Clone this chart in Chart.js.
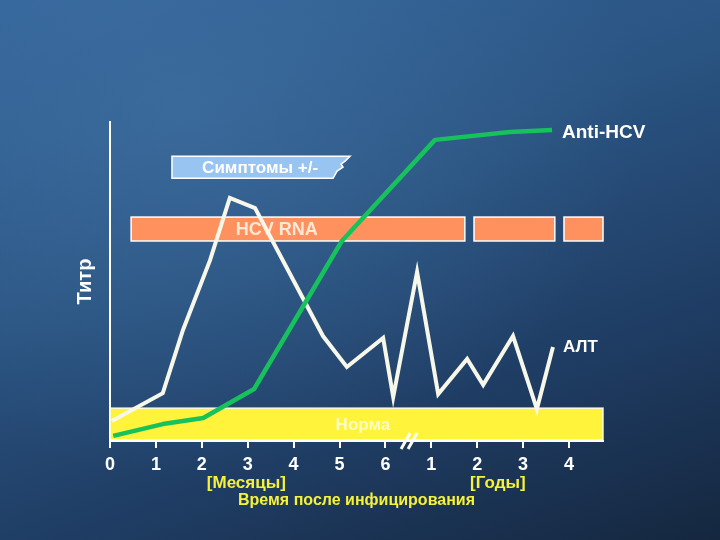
<!DOCTYPE html>
<html lang="ru">
<head>
<meta charset="utf-8">
<title>HCV</title>
<script src="https://cdn.jsdelivr.net/npm/chart.js@4/dist/chart.umd.min.js"></script>
<style>
    html, body {
        margin: 0;
        width: 720px;
        height: 540px;
        overflow: hidden;
    }
    body {
        background:
            radial-gradient(ellipse at 25% 20%, rgba(70, 120, 170, 0.5) 0%, rgba(70, 120, 170, 0) 60%),
            linear-gradient(160deg, #33649a 0%, #2a5482 38%, #1f3d64 70%, #15273f 100%);
    }
    canvas { display: block; }
</style>
</head>
<body>
<canvas id="chart" width="720" height="540"></canvas>
<script>
const tickLabels = ['0', '1', '2', '3', '4', '5', '6', '1', '2', '3', '4'];

const antiHcvX = [0.07, 1.15, 2.03, 3.14, 5.05, 7.08, 8.71, 9.63];
const antiHcvY = [1.6, 5.3, 7.2, 16.3, 62.7, 94.4, 96.9, 97.5];

const altX = [0.04, 1.15, 1.59, 2.18, 2.61, 3.16, 4.64, 5.16, 5.95, 6.17, 6.69, 7.15, 7.78, 8.13, 8.78, 9.30, 9.65];
const altY = [6.3, 15.0, 34.8, 56.7, 76.2, 73.0, 32.9, 23.2, 32.3, 13.8, 53.0, 14.7, 25.7, 17.6, 32.9, 10.0, 29.5];

const rnaFrom = [0.46, 7.93, 9.89];
const rnaTo = [7.73, 9.69, 10.74];
const rnaLevel = [62.7, 70.2];

const normaSpan = [0, 10.74];
const normaLevel = [0.3, 10.3];

const symptomsSpan = [1.35, 5.23];
const symptomsLevel = [82.4, 89.3];

const FONT = '"Liberation Sans", Arial, sans-serif';

const toPoints = (xs, ys) => xs.map((x, i) => ({ x, y: ys[i] }));

const rectFor = (chart, x0, x1, y0, y1) => {
    const { x, y } = chart.scales;
    const left = x.getPixelForValue(x0);
    const right = x.getPixelForValue(x1);
    const top = y.getPixelForValue(y1);
    const bottom = y.getPixelForValue(y0);
    return { left, right, top, bottom, width: right - left, height: bottom - top };
};

const bandsPlugin = {
    id: 'bands',
    beforeDatasetsDraw(chart) {
        const ctx = chart.ctx;
        ctx.save();

        // Норма
        const n = rectFor(chart, normaSpan[0], normaSpan[1], normaLevel[0], normaLevel[1]);
        ctx.fillStyle = '#fff33c';
        ctx.fillRect(n.left, n.top, n.width, n.height);
        ctx.strokeStyle = 'rgba(255,255,255,0.9)';
        ctx.lineWidth = 1.5;
        ctx.strokeRect(n.left, n.top, n.width, n.height);
        ctx.fillStyle = 'rgba(255,255,255,0.7)';
        ctx.font = 'bold 17px ' + FONT;
        ctx.textAlign = 'center';
        ctx.textBaseline = 'middle';
        ctx.fillText('Норма', chart.scales.x.getPixelForValue(5.51), n.top + n.height / 2 + 1);

        // HCV RNA
        rnaFrom.forEach((from, i) => {
            const r = rectFor(chart, from, rnaTo[i], rnaLevel[0], rnaLevel[1]);
            ctx.fillStyle = '#ff915f';
            ctx.fillRect(r.left, r.top, r.width, r.height);
            ctx.strokeStyle = '#ffffff';
            ctx.lineWidth = 1.5;
            ctx.strokeRect(r.left, r.top, r.width, r.height);
            if (i === 0) {
                ctx.fillStyle = '#ffe8d8';
                ctx.font = 'bold 18px ' + FONT;
                ctx.fillText('HCV RNA', chart.scales.x.getPixelForValue(3.63), r.top + r.height / 2 + 1);
            }
        });

        // Симптомы +/- (torn right edge)
        const s = rectFor(chart, symptomsSpan[0], symptomsSpan[1], symptomsLevel[0], symptomsLevel[1]);
        ctx.beginPath();
        ctx.moveTo(s.left, s.top);
        ctx.lineTo(s.right, s.top);
        ctx.lineTo(s.right - 5, s.top + 5);
        ctx.lineTo(s.right - 9, s.top + 8);
        ctx.lineTo(s.right - 7, s.top + 11);
        ctx.lineTo(s.right - 13, s.top + 15);
        ctx.lineTo(s.right - 17, s.bottom);
        ctx.lineTo(s.left, s.bottom);
        ctx.closePath();
        ctx.fillStyle = '#98c4f2';
        ctx.fill();
        ctx.strokeStyle = '#ffffff';
        ctx.lineWidth = 1.5;
        ctx.stroke();
        ctx.fillStyle = '#ffffff';
        ctx.font = 'bold 17px ' + FONT;
        ctx.fillText('Симптомы +/-', chart.scales.x.getPixelForValue(3.27), s.top + s.height / 2 + 1);

        ctx.restore();
    },
    afterDatasetsDraw(chart) {
        const ctx = chart.ctx;
        const { x } = chart.scales;
        ctx.save();

        // series names next to the last point
        ctx.fillStyle = '#ffffff';
        ctx.textAlign = 'left';
        ctx.textBaseline = 'middle';
        ctx.font = 'bold 19px ' + FONT;
        const lastHcv = chart.getDatasetMeta(0).data.at(-1);
        ctx.fillText('Anti-HCV', lastHcv.x + 10, lastHcv.y + 3);
        ctx.font = 'bold 17px ' + FONT;
        const lastAlt = chart.getDatasetMeta(1).data.at(-1);
        ctx.fillText('АЛТ', lastAlt.x + 10, lastAlt.y);

        // axis break mark
        const bx = x.getPixelForValue(6.45);
        const by = chart.chartArea.bottom;
        ctx.strokeStyle = '#ffffff';
        ctx.lineWidth = 3;
        ctx.beginPath();
        ctx.moveTo(bx - 5, by + 8);
        ctx.lineTo(bx + 4, by - 8);
        ctx.moveTo(bx + 2, by + 8);
        ctx.lineTo(bx + 11, by - 8);
        ctx.stroke();

        // unit labels under the ticks
        ctx.fillStyle = '#f6f23a';
        ctx.font = 'bold 17px ' + FONT;
        ctx.textAlign = 'center';
        ctx.fillText('[Месяцы]', x.getPixelForValue(2.97), 483);
        ctx.fillText('[Годы]', x.getPixelForValue(8.45), 483);

        ctx.restore();
    },
};

new Chart(document.getElementById('chart'), {
    type: 'line',
    data: {
        datasets: [
            {
                label: 'Anti-HCV',
                data: toPoints(antiHcvX, antiHcvY),
                borderColor: '#17c25c',
                borderWidth: 4.5,
                pointRadius: 0,
                tension: 0,
                borderJoinStyle: 'round',
            },
            {
                label: 'АЛТ',
                data: toPoints(altX, altY),
                borderColor: '#f7f7ea',
                borderWidth: 4,
                pointRadius: 0,
                tension: 0,
                borderJoinStyle: 'miter',
            },
        ],
    },
    options: {
        responsive: false,
        animation: false,
        layout: {
            padding: { top: 122, right: 117, left: 0, bottom: 0 },
        },
        plugins: {
            legend: { display: false },
            tooltip: { enabled: false },
        },
        scales: {
            x: {
                type: 'linear',
                min: 0,
                max: 10.74,
                afterFit: (scale) => { scale.height = 99; },
                afterBuildTicks: (scale) => {
                    scale.ticks = tickLabels.map((_, i) => ({ value: i }));
                },
                ticks: {
                    autoSkip: false,
                    maxRotation: 0,
                    padding: 6,
                    color: '#ffffff',
                    font: { family: FONT, size: 18, weight: 'bold' },
                    callback: (value) => tickLabels[value],
                },
                grid: {
                    drawOnChartArea: false,
                    drawTicks: true,
                    tickLength: 7,
                    color: '#ffffff',
                    lineWidth: 2,
                },
                border: { display: true, color: '#ffffff', width: 2 },
                title: {
                    display: true,
                    text: 'Время после инфицирования',
                    color: '#f6f23a',
                    font: { family: FONT, size: 16, weight: 'bold' },
                    padding: { top: 4, bottom: 30 },
                },
            },
            y: {
                min: 0,
                max: 100,
                afterFit: (scale) => { scale.width = 110; },
                ticks: { display: false },
                grid: { display: false },
                border: { display: true, color: '#ffffff', width: 2 },
                title: {
                    display: true,
                    text: 'Титр',
                    color: '#ffffff',
                    font: { family: FONT, size: 20, weight: 'bold' },
                    padding: { top: 73 },
                },
            },
        },
    },
    plugins: [bandsPlugin],
});
</script>
</body>
</html>
